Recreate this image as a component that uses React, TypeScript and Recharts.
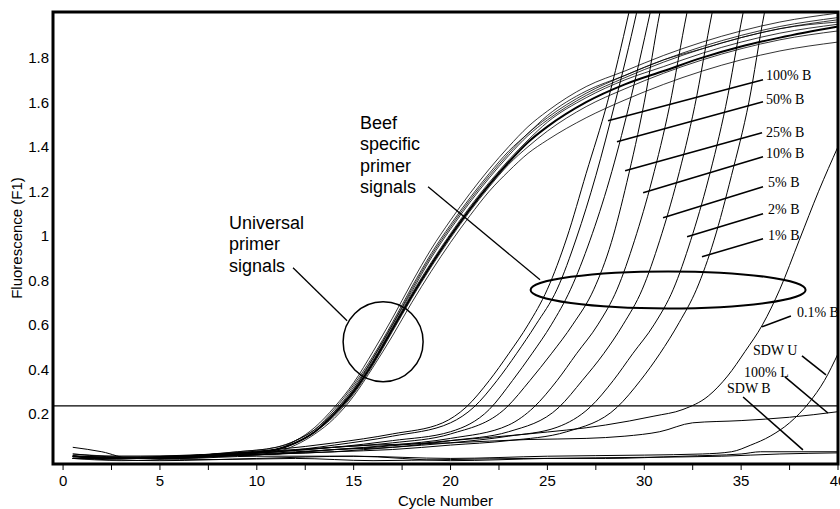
import React from 'react';
import {
  LineChart,
  Line,
  XAxis,
  YAxis,
  ReferenceLine,
  ReferenceDot,
  ReferenceArea,
} from 'recharts';

const X_MIN = -0.52;
const X_MAX = 40;
const Y_MIN = -0.025;
const Y_MAX = 2.005;
const THRESHOLD = 0.236;

const xTicks = [0, 2.5, 5, 7.5, 10, 12.5, 15, 17.5, 20, 22.5, 25, 27.5, 30, 32.5, 35, 37.5, 40];
const yTicks = [0.2, 0.4, 0.6, 0.8, 1, 1.2, 1.4, 1.6, 1.8];

// universal primer runs, all read at the same cycles
const uCycles = [0.5, 3, 6, 9, 11, 12, 13, 14, 15, 16, 17, 18, 19, 20, 21, 22, 23, 24, 25, 27, 29, 31, 33, 35, 37, 40];
const uni1 = [0.01, 0.0, 0.01, 0.02, 0.04, 0.07, 0.12, 0.2, 0.3, 0.43, 0.58, 0.73, 0.87, 1.0, 1.12, 1.23, 1.33, 1.42, 1.49, 1.6, 1.68, 1.74, 1.8, 1.85, 1.89, 1.94];
const uni2 = [0.02, 0.01, 0.01, 0.03, 0.05, 0.08, 0.14, 0.23, 0.34, 0.48, 0.63, 0.79, 0.94, 1.07, 1.19, 1.3, 1.4, 1.49, 1.56, 1.67, 1.74, 1.81, 1.87, 1.92, 1.96, 2.0];
const uni3 = [0.0, -0.01, 0.0, 0.02, 0.04, 0.08, 0.13, 0.22, 0.33, 0.46, 0.61, 0.77, 0.92, 1.05, 1.17, 1.28, 1.38, 1.46, 1.54, 1.65, 1.72, 1.79, 1.85, 1.9, 1.94, 1.98];
const uni4 = [0.01, 0.0, 0.01, 0.02, 0.04, 0.07, 0.12, 0.21, 0.31, 0.45, 0.6, 0.75, 0.9, 1.03, 1.15, 1.26, 1.36, 1.45, 1.52, 1.63, 1.71, 1.78, 1.84, 1.89, 1.93, 1.97];
const uni5 = [0.0, 0.0, 0.01, 0.02, 0.03, 0.06, 0.11, 0.18, 0.28, 0.41, 0.55, 0.7, 0.84, 0.97, 1.09, 1.2, 1.29, 1.37, 1.43, 1.53, 1.61, 1.68, 1.74, 1.79, 1.83, 1.87];
const uni6 = [0.01, 0.0, 0.0, 0.02, 0.04, 0.07, 0.12, 0.2, 0.31, 0.44, 0.59, 0.74, 0.88, 1.01, 1.13, 1.24, 1.34, 1.43, 1.51, 1.62, 1.7, 1.76, 1.82, 1.87, 1.91, 1.95];
const uni7 = [0.0, 0.0, 0.01, 0.03, 0.05, 0.08, 0.13, 0.21, 0.32, 0.45, 0.6, 0.76, 0.91, 1.04, 1.16, 1.27, 1.37, 1.46, 1.53, 1.64, 1.72, 1.79, 1.84, 1.89, 1.93, 1.96];
const uni8 = [0.01, 0.0, 0.01, 0.02, 0.04, 0.07, 0.12, 0.19, 0.29, 0.42, 0.57, 0.72, 0.86, 0.99, 1.11, 1.22, 1.32, 1.4, 1.47, 1.58, 1.66, 1.73, 1.79, 1.84, 1.88, 1.92];

// beef specific runs: [cycle, fluorescence]
const beefA = [[0.5, 0.01], [4, 0.0], [8, 0.02], [11, 0.04], [14, 0.07], [17, 0.11], [19.6, 0.16], [20.8, 0.23], [22.0, 0.35], [23.0, 0.47], [24.0, 0.6], [25.0, 0.76], [26.0, 0.99], [27.0, 1.28], [28.1, 1.6], [29.2, 2.0], [29.7, 2.2]];
const beef100 = [[0.5, 0.0], [4, 0.0], [8, 0.02], [11, 0.03], [14, 0.06], [17, 0.1], [20, 0.16], [21.2, 0.23], [22.4, 0.35], [23.4, 0.47], [24.4, 0.6], [25.5, 0.76], [26.5, 0.99], [27.5, 1.27], [28.5, 1.6], [29.6, 2.0], [30.1, 2.2]];
const beef50 = [[0.5, 0.01], [4, 0.01], [8, 0.02], [11, 0.03], [14, 0.05], [17, 0.08], [20, 0.12], [22.0, 0.22], [23.2, 0.35], [24.2, 0.47], [25.2, 0.6], [26.2, 0.76], [27.2, 0.98], [28.2, 1.25], [29.2, 1.58], [30.3, 2.0], [30.8, 2.2]];
const beef25 = [[0.5, 0.0], [4, 0.0], [8, 0.01], [11, 0.03], [14, 0.05], [17, 0.07], [20, 0.11], [22.9, 0.23], [24.1, 0.35], [25.2, 0.47], [26.3, 0.6], [27.4, 0.76], [28.3, 0.97], [29.1, 1.24], [30.0, 1.6], [30.8, 2.0], [31.3, 2.2]];
const beef10 = [[0.5, 0.01], [4, 0.0], [8, 0.01], [11, 0.02], [14, 0.04], [17, 0.06], [20, 0.09], [23, 0.15], [24.3, 0.23], [25.5, 0.35], [26.5, 0.47], [27.6, 0.6], [28.6, 0.76], [29.5, 0.98], [30.4, 1.25], [31.3, 1.58], [32.2, 2.0], [32.7, 2.2]];
const beef5 = [[0.5, 0.0], [4, 0.0], [8, 0.01], [11, 0.02], [14, 0.04], [17, 0.05], [20, 0.08], [23, 0.12], [25.6, 0.23], [26.8, 0.35], [27.9, 0.47], [28.9, 0.6], [29.9, 0.76], [30.8, 0.98], [31.7, 1.25], [32.6, 1.58], [33.5, 2.0], [34, 2.2]];
const beef2 = [[0.5, 0.01], [4, 0.0], [8, 0.01], [11, 0.02], [14, 0.03], [17, 0.05], [20, 0.07], [23, 0.1], [25.5, 0.14], [27.2, 0.23], [28.4, 0.35], [29.4, 0.47], [30.5, 0.6], [31.5, 0.76], [32.4, 0.98], [33.3, 1.25], [34.2, 1.58], [35.1, 2.0], [35.6, 2.2]];
const beef1 = [[0.5, 0.0], [4, 0.0], [8, 0.01], [11, 0.02], [14, 0.03], [17, 0.04], [20, 0.06], [23, 0.08], [26, 0.12], [28.6, 0.23], [29.8, 0.35], [30.8, 0.47], [31.8, 0.61], [32.7, 0.76], [33.6, 0.98], [34.5, 1.27], [35.4, 1.6], [36.2, 2.0], [36.7, 2.2]];
const beef01 = [[0.5, 0.01], [4, 0.0], [8, 0.01], [12, 0.03], [16, 0.05], [20, 0.08], [24, 0.11], [28, 0.15], [30.5, 0.19], [32.0, 0.22], [33.3, 0.28], [34.3, 0.37], [35.2, 0.48], [36.1, 0.6], [37.0, 0.76], [38.0, 0.98], [39.0, 1.2], [40, 1.4]];

// controls
const sdwU = [[0.5, 0.05], [2, 0.03], [3.5, 0.0], [6, 0.0], [10, 0.01], [15, 0.01], [20, 0.0], [25, 0.01], [30, 0.015], [33, 0.02], [34.5, 0.03], [35.5, 0.06], [36.5, 0.1], [37.5, 0.16], [38.5, 0.25], [39.3, 0.35], [40, 0.47]];
const lamb100 = [[0.5, 0.0], [4, 0.0], [8, 0.02], [12, 0.04], [16, 0.06], [20, 0.07], [24, 0.085], [27, 0.09], [29, 0.1], [30.8, 0.12], [32.5, 0.16], [35, 0.17], [37.5, 0.185], [40, 0.21]];
const sdwB = [[0.5, 0.02], [4, 0.0], [8, -0.005], [12, 0.0], [16, -0.01], [20, -0.005], [24, 0.0], [28, 0.0], [32, 0.01], [35, 0.02], [36, 0.03], [40, 0.03]];
const blank = [[0.5, 0.0], [5, -0.01], [10, 0.0], [15, 0.01], [20, -0.01], [25, 0.0], [30, 0.005], [34, 0.01], [37, 0.02], [40, 0.025]];

const pairsToPoints = (pairs: number[][]) => pairs.map(([x, y]) => ({ x, y }));
const valuesToPoints = (vals: number[]) => vals.map((y, i) => ({ x: uCycles[i], y }));

const series = [
  ...[uni2, uni3, uni4, uni5, uni6, uni7, uni8].map((v) => ({ data: valuesToPoints(v), w: 0.8 })),
  { data: valuesToPoints(uni1), w: 2 },
  ...[beefA, beef100, beef50, beef25, beef10, beef5, beef2, beef1, beef01, sdwU, lamb100, sdwB, blank].map((p) => ({
    data: pairsToPoints(p),
    w: 1,
  })),
];

// annotation labels: text anchor point and pointer line (data units)
const pointers = [
  { text: '100% B', at: [36.28, 1.719], from: [36.13, 1.701], to: [28.13, 1.517] },
  { text: '50% B', at: [36.28, 1.611], from: [36.13, 1.602], to: [28.59, 1.422] },
  { text: '25% B', at: [36.28, 1.463], from: [36.08, 1.463], to: [29.01, 1.292] },
  { text: '10% B', at: [36.28, 1.369], from: [36.13, 1.355], to: [29.94, 1.193] },
  { text: '5% B', at: [36.39, 1.238], from: [36.13, 1.22], to: [30.97, 1.081] },
  { text: '2% B', at: [36.39, 1.117], from: [36.13, 1.099], to: [32.21, 0.996] },
  { text: '1% B', at: [36.39, 1.0], from: [36.13, 0.987], to: [32.98, 0.906] },
  { text: '0.1% B', at: [37.88, 0.654], from: [37.57, 0.64], to: [36.08, 0.591] },
  { text: 'SDW U', at: [35.61, 0.483], from: [38.14, 0.461], to: [39.38, 0.375] },
  { text: '100% L', at: [35.15, 0.384], from: [37.26, 0.366], to: [39.48, 0.204] },
  { text: 'SDW B', at: [34.27, 0.312], from: [35.1, 0.276], to: [38.19, 0.038] },
];

const notes = [
  { lines: ['Beef', 'specific', 'primer', 'signals'], at: [15.33, 1.508], from: [18.84, 1.22], to: [24.62, 0.802] },
  { lines: ['Universal', 'primer', 'signals'], at: [8.57, 1.058], from: [11.87, 0.856], to: [14.66, 0.618] },
];

const ellipseCenter = [31.23, 0.757];
const circleCenter = [16.52, 0.524];

const sans = "'Liberation Sans', Arial, sans-serif";
const serif = "'Liberation Serif', 'Times New Roman', serif";

export default function App() {
  return (
    <div style={{ position: 'absolute', left: 0, top: 0, width: 840, height: 509, overflow: 'hidden', background: '#fff' }}>
      <LineChart width={860} height={509} margin={{ top: 12, right: 22, bottom: 0, left: 0 }}>
        <XAxis
          dataKey="x"
          type="number"
          domain={[X_MIN, X_MAX]}
          ticks={xTicks}
          interval={0}
          tickFormatter={(v: number) => (v % 5 === 0 ? String(v) : '')}
          axisLine={false}
          tickLine={{ stroke: '#000' }}
          tickSize={6}
          tickMargin={5}
          height={45}
          tick={{ fill: '#000', fontSize: 15, fontFamily: sans }}
          label={{ value: 'Cycle Number', position: 'insideBottom', offset: 3, style: { fill: '#000', fontSize: 15, fontFamily: sans } }}
        />
        <YAxis
          type="number"
          domain={[Y_MIN, Y_MAX]}
          allowDataOverflow
          ticks={yTicks}
          axisLine={false}
          tickLine={false}
          tickSize={0}
          tickMargin={4}
          width={53}
          tick={{ fill: '#000', fontSize: 15, fontFamily: sans }}
          label={{
            value: 'Fluorescence (F1)',
            angle: -90,
            position: 'insideLeft',
            offset: 17,
            style: { fill: '#000', fontSize: 15, fontFamily: sans, textAnchor: 'middle' },
          }}
        />
        {series.map((s, i) => (
          <Line
            key={i}
            data={s.data}
            dataKey="y"
            type="monotone"
            stroke="#000"
            strokeWidth={s.w}
            dot={false}
            activeDot={false}
            isAnimationActive={false}
          />
        ))}
        <ReferenceLine y={THRESHOLD} stroke="#000" strokeWidth={1.3} />
        {pointers.map((p) => (
          <ReferenceLine
            key={'l' + p.text}
            segment={[{ x: p.from[0], y: p.from[1] }, { x: p.to[0], y: p.to[1] }]}
            stroke="#000"
            strokeWidth={1.6}
          />
        ))}
        {pointers.map((p) => (
          <ReferenceDot
            key={'t' + p.text}
            x={p.at[0]}
            y={p.at[1]}
            r={0}
            shape={(props: any) => (
              <text x={props.cx} y={props.cy} dominantBaseline="central" fontFamily={serif} fontSize={14} fill="#000">
                {p.text}
              </text>
            )}
          />
        ))}
        {notes.map((n) => (
          <ReferenceLine
            key={'nl' + n.lines[0]}
            segment={[{ x: n.from[0], y: n.from[1] }, { x: n.to[0], y: n.to[1] }]}
            stroke="#000"
            strokeWidth={1.3}
          />
        ))}
        {notes.map((n) => (
          <ReferenceDot
            key={'nt' + n.lines[0]}
            x={n.at[0]}
            y={n.at[1]}
            r={0}
            shape={(props: any) => (
              <text x={props.cx} y={props.cy} fontFamily={sans} fontSize={18} fill="#000">
                {n.lines.map((t, k) => (
                  <tspan key={k} x={props.cx} dy={k === 0 ? 6 : 21.5}>
                    {t}
                  </tspan>
                ))}
              </text>
            )}
          />
        ))}
        <ReferenceDot
          x={ellipseCenter[0]}
          y={ellipseCenter[1]}
          r={0}
          shape={(props: any) => (
            <ellipse cx={props.cx} cy={props.cy} rx={137.5} ry={18.5} fill="none" stroke="#000" strokeWidth={2} />
          )}
        />
        <ReferenceDot x={circleCenter[0]} y={circleCenter[1]} r={40} fill="none" stroke="#000" strokeWidth={1.5} />
        <ReferenceArea x1={X_MIN} x2={X_MAX} y1={Y_MIN} y2={Y_MAX} fill="none" stroke="#000" strokeWidth={3} />
      </LineChart>
    </div>
  );
}
